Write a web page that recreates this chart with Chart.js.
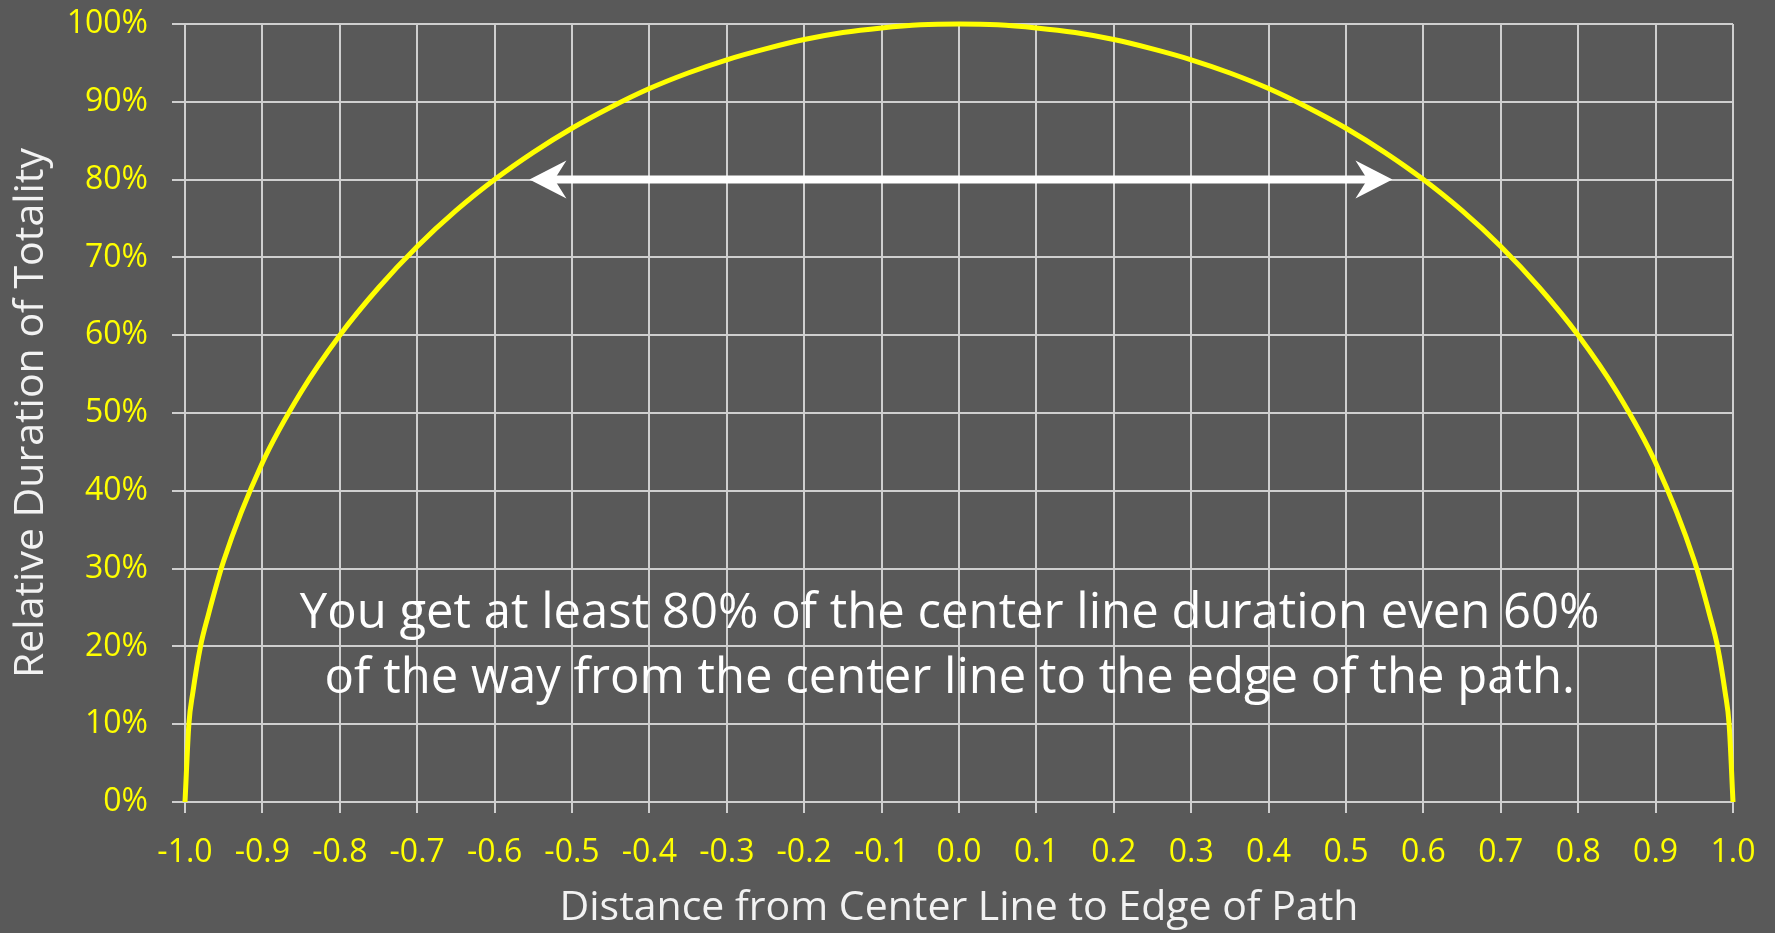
<!DOCTYPE html>
<html>
<head>
<meta charset="utf-8">
<script src="https://cdn.jsdelivr.net/npm/chart.js@4.4.1/dist/chart.umd.min.js"></script>
<style>
  html, body { margin: 0; padding: 0; background: #595959; }
  #container { width: 1775px; height: 933px; }
</style>
</head>
<body>
<div id="container"><canvas id="myChart"></canvas></div>
<script>
'use strict'
// distance from center line (fraction of half-width) and relative duration (%)
const distance = [-1.0, -0.995, -0.99, -0.98, -0.97, -0.95, -0.9, -0.85, -0.8, -0.75, -0.7, -0.65, -0.6,
    -0.55, -0.5, -0.45, -0.4, -0.35, -0.3, -0.25, -0.2, -0.15, -0.1, -0.05, 0.0,
    0.05, 0.1, 0.15, 0.2, 0.25, 0.3, 0.35, 0.4, 0.45, 0.5, 0.55,
    0.6, 0.65, 0.7, 0.75, 0.8, 0.85, 0.9, 0.95, 0.97, 0.98, 0.99, 0.995, 1.0]
const duration = [0, 10, 14, 20, 24, 31, 43.6, 52.7, 60, 66.1, 71.4, 76, 80,
    83.5, 86.6, 89.3, 91.7, 93.7, 95.4, 96.8, 98, 98.9, 99.5, 99.9, 100,
    99.9, 99.5, 98.9, 98, 96.8, 95.4, 93.7, 91.7, 89.3, 86.6, 83.5,
    80, 76, 71.4, 66.1, 60, 52.7, 43.6, 31, 24, 20, 14, 10, 0]

const xTicks = [-1.0, -0.9, -0.8, -0.7, -0.6, -0.5, -0.4, -0.3, -0.2, -0.1, 0.0,
    0.1, 0.2, 0.3, 0.4, 0.5, 0.6, 0.7, 0.8, 0.9, 1.0]
const yTicks = [0, 10, 20, 30, 40, 50, 60, 70, 80, 90, 100]

const noteLines = [
    'You get at least 80% of the center line duration even 60%',
    'of the way from the center line to the edge of the path.'
]
const noteX = -0.012
const noteY = [24.2, 15.8]
const arrowFrom = -0.555
const arrowTo = 0.56
const arrowLevel = 80

const gridColor = '#cfcfcf'
const tickColor = '#ffff00'
const textColor = '#f2f2f2'
const fontFamily = '"Open Sans", sans-serif'

const points = distance.map((d, i) => ({ x: d, y: duration[i] }))

const drawHead = function(ctx, x, y, dir) {
    // stealth-style arrow head, dir = -1 points left, 1 points right
    const len = 37, half = 19, notch = 12
    ctx.beginPath()
    ctx.moveTo(x, y)
    ctx.lineTo(x - dir * len, y - half)
    ctx.lineTo(x - dir * (len - notch), y)
    ctx.lineTo(x - dir * len, y + half)
    ctx.closePath()
    ctx.fill()
}

const overlay = {
    id: 'overlay',
    afterDraw(chart) {
        const ctx = chart.ctx
        const xs = chart.scales.x
        const ys = chart.scales.y
        ctx.save()

        // double arrow
        const x1 = xs.getPixelForValue(arrowFrom)
        const x2 = xs.getPixelForValue(arrowTo)
        const ya = ys.getPixelForValue(arrowLevel)
        ctx.fillStyle = '#ffffff'
        ctx.strokeStyle = '#ffffff'
        ctx.lineWidth = 8
        ctx.beginPath()
        ctx.moveTo(x1 + 20, ya)
        ctx.lineTo(x2 - 20, ya)
        ctx.stroke()
        drawHead(ctx, x1, ya, -1)
        drawHead(ctx, x2, ya, 1)

        // note
        ctx.fillStyle = '#ffffff'
        ctx.font = '49px ' + fontFamily
        ctx.textAlign = 'center'
        ctx.textBaseline = 'middle'
        noteLines.forEach((line, i) => {
            ctx.fillText(line, xs.getPixelForValue(noteX), ys.getPixelForValue(noteY[i]))
        })
        ctx.restore()
    }
}

const ctx = document.getElementById('myChart')

new Chart(ctx, {
    type: 'scatter',
    data: {
        datasets: [{
            data: points,
            showLine: true,
            borderColor: '#ffff00',
            borderWidth: 5,
            pointRadius: 0,
            cubicInterpolationMode: 'monotone',
            clip: false,
        }],
    },
    options: {
        responsive: true,
        maintainAspectRatio: false,
        animation: false,
        layout: {
            padding: { top: 24, right: 42, left: 0, bottom: 0 },
        },
        plugins: {
            legend: { display: false },
            tooltip: { enabled: false },
        },
        scales: {
            x: {
                type: 'linear',
                min: -1,
                max: 1,
                afterBuildTicks: (axis) => {
                    axis.ticks = xTicks.map(v => ({ value: v }))
                },
                afterFit: (axis) => {
                    axis.height = 131
                    axis.paddingLeft = 0
                    axis.paddingRight = 0
                },
                grid: { color: gridColor, lineWidth: 2, tickLength: 11 },
                border: { color: gridColor, width: 2 },
                ticks: {
                    color: tickColor,
                    padding: 21,
                    maxRotation: 0,
                    autoSkip: false,
                    font: { family: fontFamily, size: 32 },
                    callback: (v) => (Math.abs(v) < 1e-9 ? 0 : v).toFixed(1),
                },
                title: {
                    display: true,
                    text: 'Distance from Center Line to Edge of Path',
                    color: textColor,
                    font: { family: fontFamily, size: 41 },
                    padding: { top: 0, bottom: 0 },
                },
            },
            y: {
                min: 0,
                max: 100,
                afterBuildTicks: (axis) => {
                    axis.ticks = yTicks.map(v => ({ value: v }))
                },
                afterFit: (axis) => {
                    axis.width = 185
                    axis.paddingTop = 0
                    axis.paddingBottom = 0
                },
                grid: { color: gridColor, lineWidth: 2, tickLength: 13 },
                border: { color: gridColor, width: 2 },
                ticks: {
                    color: tickColor,
                    padding: 24,
                    autoSkip: false,
                    font: { family: fontFamily, size: 32 },
                    callback: (v) => v + '%',
                },
                title: {
                    display: true,
                    text: 'Relative Duration of Totality',
                    color: textColor,
                    font: { family: fontFamily, size: 41 },
                    padding: { top: 7, bottom: 0 },
                },
            },
        },
    },
    plugins: [overlay],
})
</script>
</body>
</html>
